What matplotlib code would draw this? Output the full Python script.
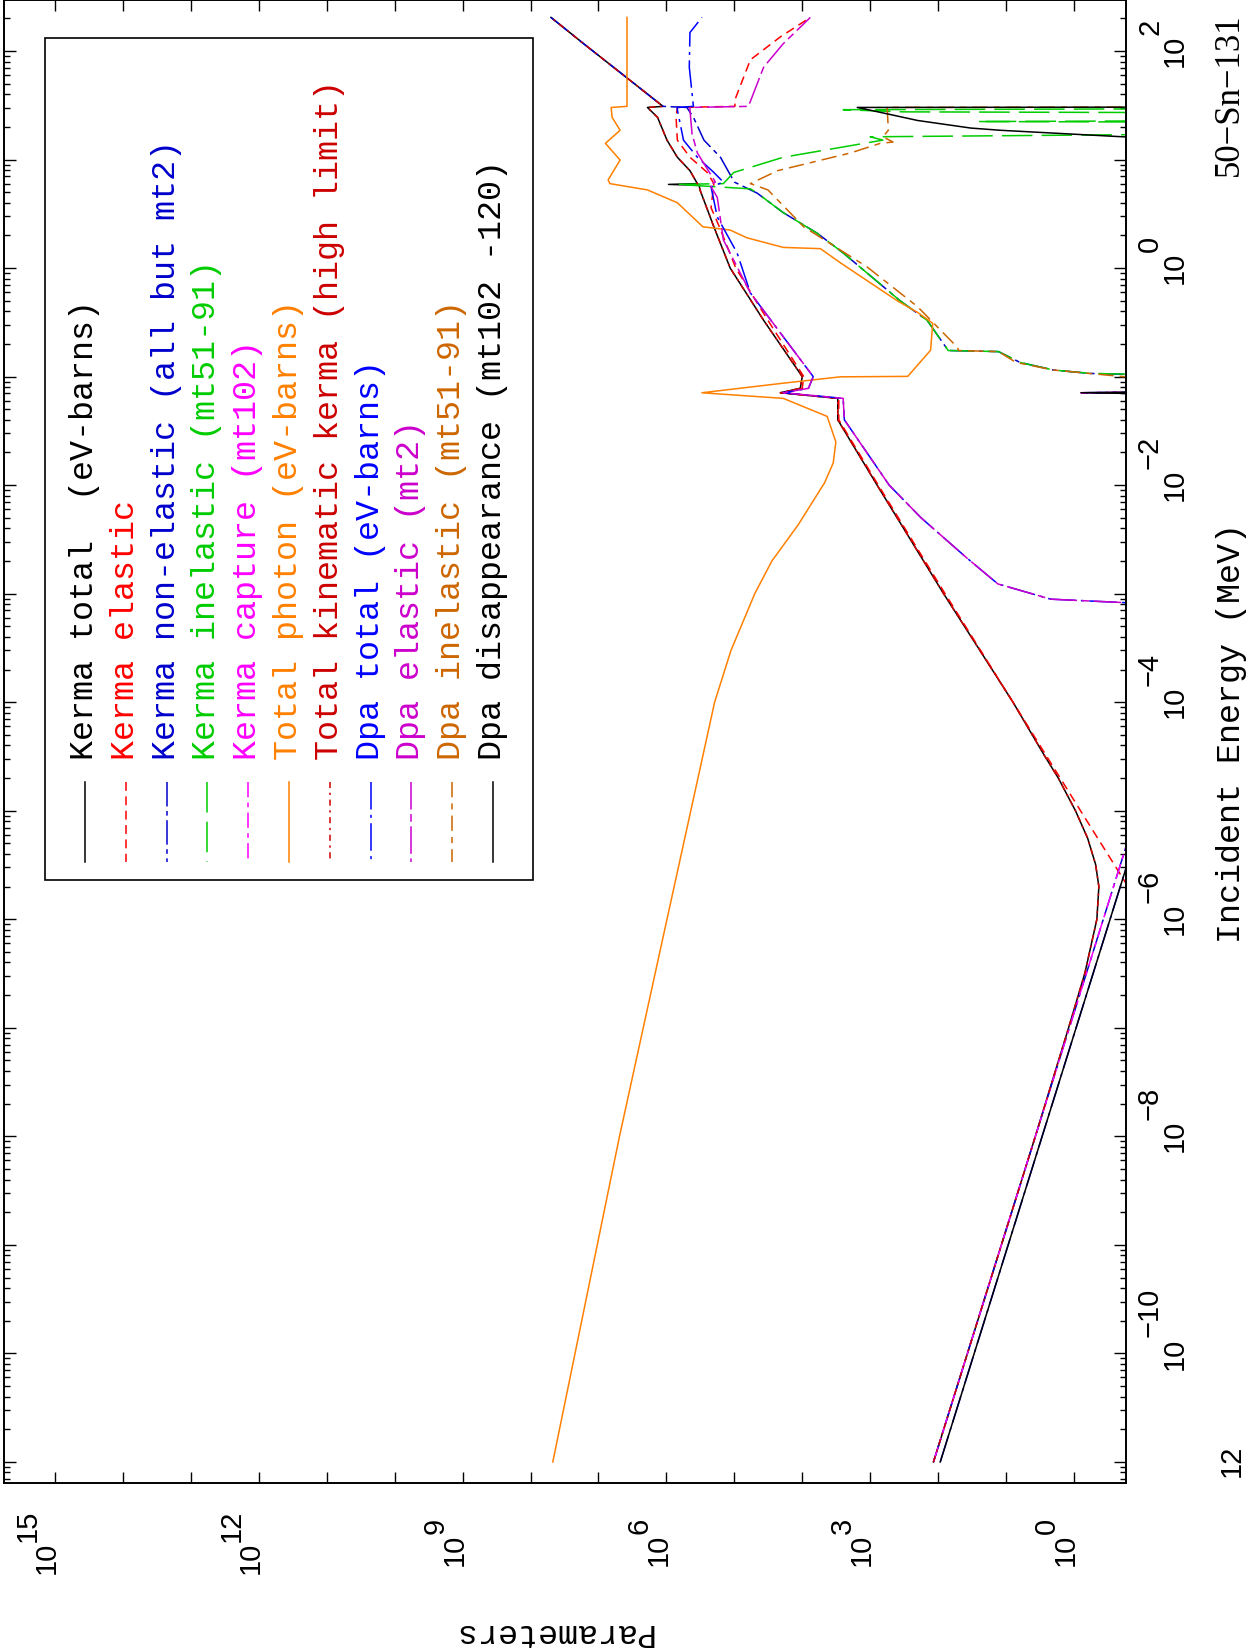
import numpy as np
import matplotlib.pyplot as plt
from matplotlib.lines import Line2D
from matplotlib.patches import Rectangle
from matplotlib.transforms import IdentityTransform
from matplotlib.ticker import LogLocator, NullLocator

# ---- data: incident energy (MeV) and parameter values ----
kt_e = [1e-11, 1e-10, 1e-9, 1e-8, 1e-7, 3.2e-7, 1e-6, 2e-6, 3.2e-6, 5.6e-6, 1e-5, 2e-5, 3.2e-5, 1e-4,
        1e-3, 1e-2, 0.040, 0.063, 0.071, 0.078, 0.10, 0.33, 1.0, 2.4, 5.25, 5.8, 5.9, 6.0, 7.9, 10.5,
        15.1, 24.5, 30.2, 30.9, 66, 117, 204]
kt_v = [117, 37, 11.7, 3.7, 1.2, 0.69, 0.46, 0.43, 0.48, 0.63, 0.95, 1.7, 2.7, 7.9,
        83, 790, 3.0e3, 3.0e3, 2.1e4, 1.07e4, 1.0e4, 3.7e4, 1.15e5, 2.0e5, 3.2e5, 3.3e5, 9.3e5, 3.5e5, 4.5e5, 6.9e5,
        9.8e5, 1.35e6, 1.9e6, 1.12e6, 5.2e6, 1.66e7, 5.0e7]

kk_e = kt_e
kk_v = [117, 37, 11.7, 3.7, 1.2, 0.69, 0.46, 0.43, 0.48, 0.63, 0.95, 1.7, 2.7, 7.9,
        83, 790, 3.0e3, 3.0e3, 2.1e4, 1.07e4, 1.0e4, 3.7e4, 1.15e5, 2.0e5, 3.2e5, 3.3e5, 3.4e5, 3.5e5, 4.5e5, 6.9e5,
        9.8e5, 1.35e6, 1.9e6, 1.12e6, 5.2e6, 1.66e7, 5.0e7]

ke_e = [2.0e-6, 1e-5, 1e-4, 1e-3, 1e-2, 0.040, 0.063, 0.071, 0.078, 0.10, 0.33, 1.0, 2.4, 3.6,
        6.0, 7.6, 10.5, 15.1, 24.5, 30.2, 30.9, 35.5, 83, 135, 204]
ke_v = [0.16, 0.8, 7.9, 79, 760, 2.9e3, 2.9e3, 2.0e4, 1.0e4, 9.5e3, 3.2e4, 9.5e4, 1.66e5, 2.2e5,
        2.0e5, 2.5e5, 4.5e5, 6.9e5, 7.2e5, 6.9e5, 9.8e4, 9.8e4, 5.8e4, 2.1e4, 7.6e3]

kn_e = [1e-11, 1e-5, 0.068, 0.071, 0.074, 0.099, 0.107, 0.115, 0.135, 0.170, 0.174, 0.33, 0.50,
        1.38, 2.09, 3.24, 4.9, 6.2, 10.5, 15.1, 24.5, 30.2, 30.9, 66, 117, 204]
kn_v = [117, 0.117, 0.005, 0.79, 0.005, 0.005, 0.58, 2.0, 6.2, 12.9, 71, 145, 363,
        2.5e3, 6.0e3, 1.9e4, 4.6e4, 1.0e5, 1.6e5, 2.8e5, 4.0e5, 5.0e5, 1.12e6, 5.2e6, 1.66e7, 5.0e7]

ki_e = [0.099, 0.107, 0.115, 0.135, 0.170, 0.174, 0.33, 0.50, 1.38, 2.09, 3.24, 4.9, 5.37, 5.9,
        6.0, 7.6, 10.5, 15.1, 16.2, 17.4, 22.0, 22.4, 22.9, 26.9, 27.5, 28.8, 29.5, 204]
ki_v = [0.001, 0.58, 2.0, 6.2, 12.9, 71, 145, 363, 2.5e3, 6.0e3, 1.9e4, 4.6e4, 5.8e4, 6.9e5,
        1.45e5, 1.02e5, 1.9e4, 650, 1.0e3, 0.001, 0.001, 26, 0.001, 0.001, 324, 2.5e3, 0.001, 0.001]

kc_e = [1e-11, 1e-5, 0.068, 0.071, 0.074, 204]
kc_v = [117, 0.117, 0.005, 0.79, 0.005, 0.005]

tp_e = [1e-11, 1e-8, 1e-6, 1e-4, 3e-4, 1e-3, 2e-3, 4.3e-3, 1.05e-2, 1.6e-2, 0.025, 0.043, 0.063, 0.071,
        0.087, 0.0995, 0.1005, 0.175, 0.31, 0.39, 0.50, 1.12, 1.51, 1.55, 1.9, 2.24, 2.4, 4.0, 5.25,
        6.0, 6.5, 9.9, 14.1, 18.6, 24.5, 30.2, 30.9, 204]
tp_v = [4.7e7, 4.9e6, 9.8e5, 1.95e5, 1.12e5, 5.0e4, 2.8e4, 1.15e4, 4.7e3, 3.5e3, 3.2e3, 4.3e3, 1.9e4, 3.0e5,
        1.9e4, 2.75e3, 280, 129, 120, 200, 400, 2.75e3, 5.4e3, 1.9e4, 6.5e4, 1.15e5, 2.9e5, 6.9e5, 1.9e6,
        6.8e6, 7.2e6, 4.8e6, 7.9e6, 4.8e6, 6.3e6, 6.5e6, 3.8e6, 3.8e6]

dt_e = [1e-11, 1e-5, 7.6e-4, 8.9e-4, 1.23e-3, 2.14e-3, 5.0e-3, 1e-2, 0.040, 0.063, 0.071, 0.078, 0.10,
        0.59, 1.38, 2.95, 5.6, 6.2, 7.6, 10.5, 15.1, 28.8, 30.2, 30.9, 71, 148, 204]
dt_v = [93, 0.093, 0.01, 2.2, 13.2, 38, 178, 525, 2.4e3, 2.5e3, 1.9e4, 8.1e3, 6.9e3,
        5.8e4, 9.1e4, 1.78e5, 2.2e5, 1.45e5, 2.0e5, 3.5e5, 5.6e5, 6.9e5, 6.9e5, 4.0e5, 4.6e5, 4.5e5, 3.0e5]

de_e = [7.6e-4, 8.9e-4, 1.23e-3, 2.14e-3, 5.0e-3, 1e-2, 0.040, 0.063, 0.071, 0.078, 0.10, 0.59, 1.82,
        4.47, 5.9, 6.2, 11.5, 17.4, 28.8, 30.2, 30.9, 71, 117, 204]
de_v = [0.01, 2.2, 13.2, 38, 178, 525, 2.4e3, 2.5e3, 1.9e4, 8.1e3, 6.9e3, 5.8e4, 1.45e5,
        1.78e5, 2.3e5, 1.9e5, 3.5e5, 4.2e5, 4.5e5, 4.5e5, 6.2e4, 3.7e4, 1.9e4, 7.6e3]

di_e = [0.099, 0.100, 0.115, 0.135, 0.170, 0.174, 0.186, 0.44, 1.02, 2.4, 5.25, 6.0, 7.9, 11.5,
        14.1, 14.5, 16.2, 18.6, 28.8, 30.2, 30.5, 204]
di_v = [0.001, 0.19, 2.0, 7.1, 12.9, 50, 52, 200, 1.1e3, 9.5e3, 3.2e4, 5.8e4, 2.3e4, 1.95e3,
        710, 460, 650, 540, 560, 560, 0.001, 0.001]

dd_e = [1e-11, 1e-5, 0.068, 0.071, 0.074, 15.8, 16.2, 18.6, 19.5, 22.9, 26.9, 30.2, 30.5, 204]
dd_v = [93, 0.093, 0.005, 0.79, 0.005, 0.005, 0.19, 12, 33, 200, 650, 1.55e3, 0.001, 0.001]

labels = ["Kerma total  (eV-barns)", "Kerma elastic", "Kerma non-elastic (all but mt2)",
          "Kerma inelastic (mt51-91)", "Kerma capture (mt102)", "Total photon (eV-barns)",
          "Total kinematic kerma (high limit)", "Dpa total (eV-barns)", "Dpa elastic (mt2)",
          "Dpa inelastic (mt51-91)", "Dpa disappearance (mt102 -120)"]
colors = ["black", "#ff0000", "#0000cc", "#00cc00", "#ff00ff", "#ff8000",
          "#cc0000", "#0000ff", "#cc00cc", "#cc6600", "black"]
styles = ["-", (0, (5.8, 3.6)), (0, (16, 3, 3, 3)), (0, (20, 6)), (0, (10, 3.5, 3, 3.5)), "-",
          (0, (4, 3, 1.5, 3)), (0, (18, 3.5, 2, 3.5)), (0, (18, 3, 5, 3)), (0, (10, 4, 4, 4)), "-"]
series = [(kt_e, kt_v), (ke_e, ke_v), (kn_e, kn_v), (ki_e, ki_v), (kc_e, kc_v), (tp_e, tp_v),
          (kk_e, kk_v), (dt_e, dt_v), (de_e, de_v), (di_e, di_v), (dd_e, dd_v)]

W, H = 1247, 1651
fig = plt.figure(figsize=(W / 100, H / 100), dpi=100)
ax = fig.add_axes([4 / W, 1 - 1483 / H, (1126 - 4) / W, 1483 / H])
ax.set_xscale('log')
ax.set_yscale('log')
ax.set_xlim(10**15.751, 10**-0.766)
ax.set_ylim(10**-11.194, 10**2.47)

# page is rotated: parameter runs horizontally (right to left), energy vertically
for (e, v), c, ls in zip(series, colors, styles):
    ax.plot(v, e, color=c, linestyle=ls, lw=1.1)

ax.xaxis.set_major_locator(LogLocator(base=10, numticks=40))
ax.xaxis.set_minor_locator(NullLocator())
ax.yaxis.set_major_locator(LogLocator(base=10, numticks=40))
ax.yaxis.set_minor_locator(LogLocator(base=10, subs=np.arange(2, 10), numticks=40))
ax.tick_params(which='both', direction='in', top=True, bottom=True, left=True, right=True,
               labelbottom=False, labelleft=False, width=1.0)
ax.tick_params(axis='x', which='major', length=7.9)
ax.tick_params(axis='y', which='major', length=8.6)
ax.tick_params(axis='y', which='minor', length=4.3)
for s in ax.spines.values():
    s.set_linewidth(1.4)

ident = IdentityTransform()
tick_font = dict(family='Liberation Sans', size=21, rotation=90, rotation_mode='anchor',
                 va='baseline', transform=ident)
adv = 16.2

# energy tick labels (right side)
for k in [2, 0, -2, -4, -6, -8, -10]:
    yd = ax.transData.transform((1.0, 10.0**k))[1]
    fig.text(1183, yd, "10", ha='center', **tick_font)
    fig.text(1158, yd + adv, str(k).replace('-', '\u2212'), ha='left', **tick_font)
fig.text(1240, H - 1461, "12", ha='center', **tick_font)

# parameter tick labels (bottom)
for k in [15, 12, 9, 6, 3, 0]:
    xd = ax.transData.transform((10.0**k, 1.0))[0]
    ex = str(k)
    L = 2 * adv + len(ex) * adv
    ys = H - (1542 + L / 2)
    fig.text(xd, ys, "10", ha='left', **tick_font)
    fig.text(xd - 19, ys + 2 * adv, ex, ha='left', **tick_font)

mono = dict(family='Liberation Mono', size=24, transform=ident)
fig.text(1240, H - 733, "Incident Energy (MeV)", rotation=90, rotation_mode='anchor',
         ha='center', va='baseline', **mono)
fig.text(552, H - 1632, "Parameters", rotation=180, ha='center', va='center', **mono)
fig.text(1238, H - 95, "50\u2212Sn\u2212131", rotation=90, rotation_mode='anchor',
         ha='center', va='baseline', family='Liberation Serif', size=25, transform=ident)

# legend box drawn by hand (rotated page)
fig.add_artist(Rectangle((45, H - 880), 533 - 45, 880 - 38, transform=ident,
                         facecolor='white', edgecolor='black', lw=1.2, zorder=3))
for i, (lab, c, ls) in enumerate(zip(labels, colors, styles)):
    x = 85 + i * 40.8
    fig.add_artist(Line2D([x, x], [H - 782, H - 862], color=c, linestyle=ls, lw=1.1,
                          transform=ident, zorder=4))
    fig.text(x + 8, H - 760, lab, color=c, rotation=90, rotation_mode='anchor',
             ha='left', va='baseline', zorder=4, **mono)

fig.savefig('out.png', dpi=100)
